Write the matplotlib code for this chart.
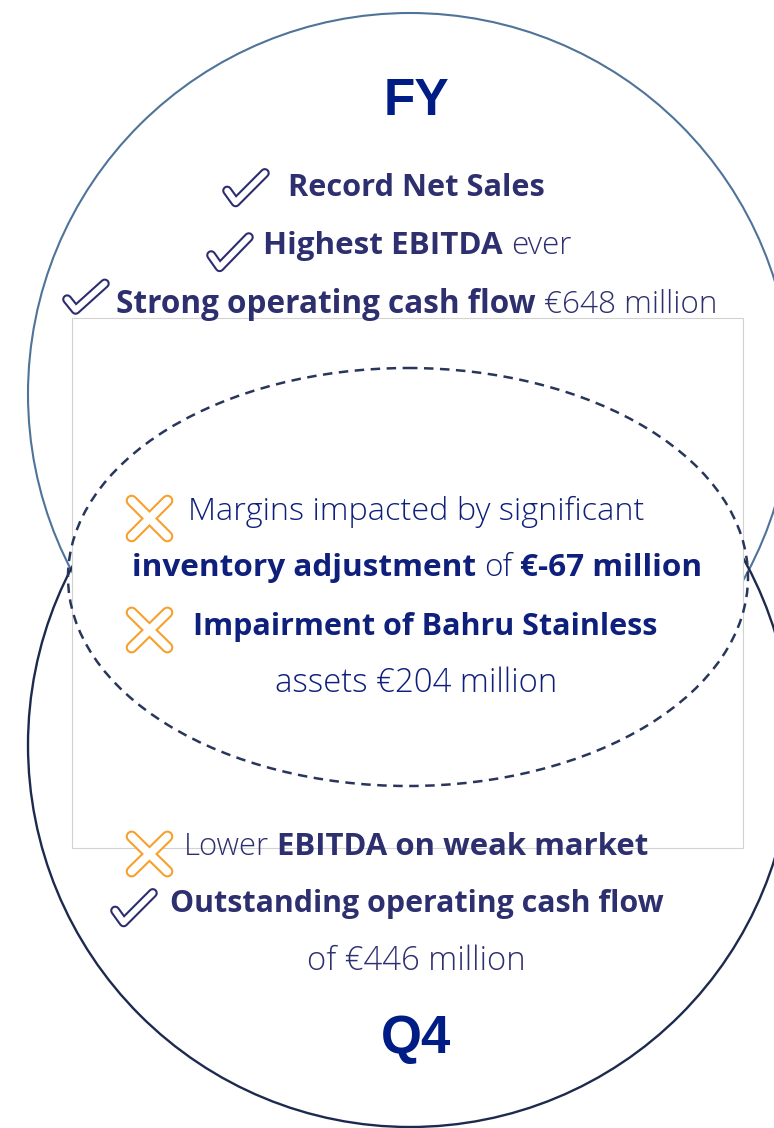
import matplotlib
matplotlib.use("Agg")
import matplotlib.pyplot as plt
from matplotlib.patches import Ellipse, Rectangle

# ---------------- content ----------------
titles = ["FY", "Q4"]

# each line: list of (text, weight) segments
line_segments = [
    [("Record Net Sales", "bold")],
    [("Highest EBITDA", "bold"), ("ever", "light")],
    [("Strong operating cash flow", "bold"), ("€648 million", "light")],
    [("Margins impacted by significant", "light")],
    [("inventory adjustment", "bold"), ("of", "light"), ("€-67 million", "bold")],
    [("Impairment of Bahru Stainless", "bold")],
    [("assets €204 million", "light")],
    [("Lower", "light"), ("EBITDA on weak market", "bold")],
    [("Outstanding operating cash flow", "bold")],
    [("of €446 million", "light")],
]
line_icons = ["check", "check", "check", "x", None, "x", None, "x", "check", None]
line_group = ["fy", "fy", "fy", "both", "both", "both", "both", "q4", "q4", "q4"]

# ---------------- layout (pixels) ----------------
W, H = 774, 1128
# (left x, right x, baseline y) of each text line
line_boxes = [
    (288, 545, 196), (263, 571, 254), (116, 717, 313),
    (188, 645, 520), (132, 701, 576), (193, 658, 635), (275, 557, 692),
    (184, 649, 855), (170, 664, 912), (307, 526, 970),
]
# icon boxes (x0, y0, x1, y1)
icon_boxes = [
    (222, 168, 269, 207), (206, 232, 253, 272), (62, 279, 109, 314),
    (126, 495, 173, 542), None, (126, 607, 173, 653), None,
    (126, 831, 173, 877), (110, 888, 157, 927), None,
]
title_pos = [(416, 115, 37), (416, 1053, 38)]

C_TITLE = "#001c85"
C_TEXT = {"fy": "#2d2f6f", "both": "#0f207c", "q4": "#2d2f6f"}
C_CHECK = "#2b2d6e"
C_X = "#f7a02c"
BODY_FONT = ["Open Sans", "DejaVu Sans"]

fig = plt.figure(figsize=(W / 100, H / 100), dpi=100)
ax = fig.add_axes([0, 0, 1, 1])
ax.set_xlim(0, W)
ax.set_ylim(H, 0)
ax.axis("off")

# circles
ax.add_patch(Ellipse((410, 394), 2 * 382, 2 * 381, fill=False,
                     edgecolor="#4f7399", lw=1.5, zorder=1))
ax.add_patch(Ellipse((410, 745), 2 * 382, 2 * 382, fill=False,
                     edgecolor="#1c2a4e", lw=1.7, zorder=1))
# white overlay panel
ax.add_patch(Rectangle((72, 318), 743 - 72, 848 - 318, facecolor="white",
                       edgecolor="#d2d2d2", lw=0.8, zorder=2))
# dashed intersection ellipse
ax.add_patch(Ellipse((408, 577), 2 * 340, 2 * 209, fill=False,
                     edgecolor="#27365a", lw=1.8, ls=(0, (3.8, 2.6)), zorder=3))

# titles
for t, (x, y, fs) in zip(titles, title_pos):
    ax.text(x, y, t, ha="center", va="baseline", fontsize=fs,
            fontweight="bold", family=["Liberation Sans", "DejaVu Sans"],
            color=C_TITLE, zorder=5)

fig.canvas.draw()
renderer = fig.canvas.get_renderer()


def text_width(s, fs, weight):
    t = ax.text(0, 0, s, fontsize=fs, fontweight=weight, family=BODY_FONT)
    w = t.get_window_extent(renderer=renderer).width
    t.remove()
    return w


def space_width(fs, weight):
    return text_width("x x", fs, weight) - text_width("xx", fs, weight)


def layout_width(segs, fs):
    total = 0
    for i, (s, w) in enumerate(segs):
        if i > 0:
            total += space_width(fs, w)
        total += text_width(s, fs, w)
    return total


for segs, (x0, x1, yb), grp in zip(line_segments, line_boxes, line_group):
    base = 20.0
    fs = base * (x1 - x0) / layout_width(segs, base)
    x = x0
    for i, (s, w) in enumerate(segs):
        if i > 0:
            x += space_width(fs, w)
        ax.text(x, yb, s, ha="left", va="baseline", fontsize=fs,
                fontweight=w, family=BODY_FONT, color=C_TEXT[grp], zorder=6)
        x += text_width(s, fs, w)


def draw_strokes(paths, color, outer, inner):
    for xs, ys in paths:
        ax.plot(xs, ys, color=color, lw=outer, solid_capstyle="round",
                solid_joinstyle="round", zorder=7)
    for xs, ys in paths:
        ax.plot(xs, ys, color="white", lw=inner, solid_capstyle="round",
                solid_joinstyle="round", zorder=8)


for kind, box in zip(line_icons, icon_boxes):
    if kind is None or box is None:
        continue
    x0, y0, x1, y1 = box
    w, h = x1 - x0, y1 - y0
    if kind == "check":
        pts = [(0.11, 0.58), (0.29, 0.88), (0.91, 0.13)]
        xs = [x0 + px * w for px, py in pts]
        ys = [y0 + py * h for px, py in pts]
        draw_strokes([(xs, ys)], C_CHECK, 7.2, 4.2)
    else:
        a, b = 0.12, 0.88
        p1 = ([x0 + a * w, x0 + b * w], [y0 + a * h, y0 + b * h])
        p2 = ([x0 + b * w, x0 + a * w], [y0 + a * h, y0 + b * h])
        draw_strokes([p1, p2], C_X, 8.6, 5.6)

fig.savefig("out.png", dpi=100, facecolor="white")
